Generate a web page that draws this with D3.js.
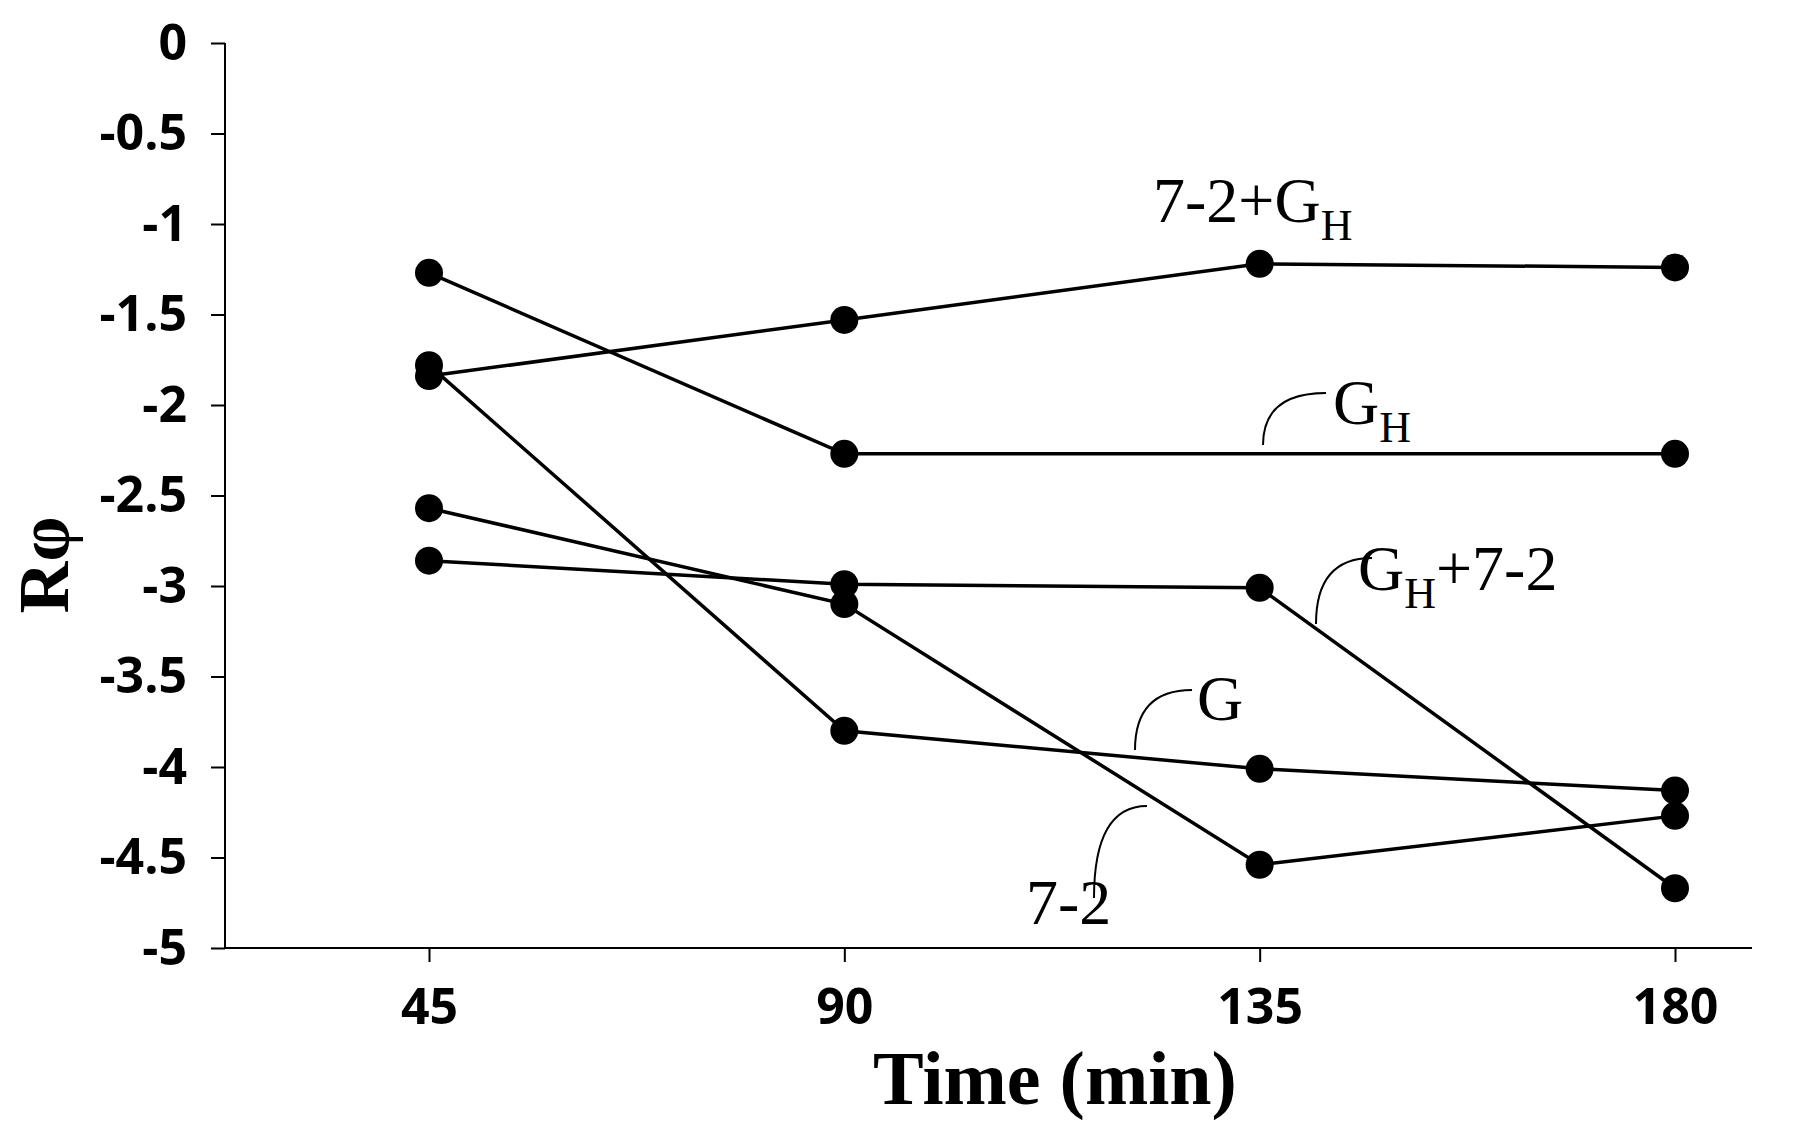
<!DOCTYPE html>
<html>
<head>
<meta charset="UTF-8">
<script src="https://d3js.org/d3.v7.min.js"></script>
<style>
  body { margin: 0; background: #fff; }
  .tick text { font-family: "Liberation Sans Narrow", "Open Sans", sans-serif; font-weight: bold; }
</style>
</head>
<body>
<div id="chart"></div>
<script>
var times = [45, 90, 135, 180];
var yTicks = [0, -0.5, -1, -1.5, -2, -2.5, -3, -3.5, -4, -4.5, -5];
var seriesNames = ["7-2+GH", "GH", "G", "7-2", "GH+7-2"];
var s72GH = [-1.84, -1.53, -1.22, -1.24];
var sGH = [-1.27, -2.27, null, -2.27];
var sG = [-1.78, -3.80, -4.01, -4.13];
var s72 = [-2.57, -3.10, -4.54, -4.27];
var sGH72 = [-2.86, -2.99, -3.01, -4.67];
var allSeries = [s72GH, sGH, sG, s72, sGH72];

var W = 1804, H = 1128;
var svg = d3.select("#chart").append("svg").attr("width", W).attr("height", H);

var x = d3.scaleLinear().domain([45, 180]).range([429, 1675]);
var y = d3.scaleLinear().domain([-5, 0]).range([948, 43]);

// axes
svg.append("line").attr("x1", 225).attr("x2", 225).attr("y1", y(0)).attr("y2", y(-5))
   .attr("stroke", "#000").attr("stroke-width", 2);
svg.append("line").attr("x1", 225).attr("x2", 1752).attr("y1", y(-5)).attr("y2", y(-5))
   .attr("stroke", "#000").attr("stroke-width", 2);

var yAxis = svg.append("g").attr("transform", "translate(225,0)")
  .call(d3.axisLeft(y).tickValues(yTicks).tickSize(14).tickFormat(function(d) { return d; }));
yAxis.select(".domain").remove();
yAxis.selectAll("line").attr("stroke-width", 2);
yAxis.selectAll("text").attr("font-size", 50).attr("x", -38).attr("fill", "#000");

var xAxis = svg.append("g").attr("transform", "translate(0," + y(-5) + ")")
  .call(d3.axisBottom(x).tickValues(times).tickSize(14));
xAxis.select(".domain").remove();
xAxis.selectAll("line").attr("stroke-width", 2);
xAxis.selectAll("text").attr("font-size", 50).attr("y", 40).attr("fill", "#000");

svg.append("text").attr("x", 1055).attr("y", 1104).attr("text-anchor", "middle")
  .attr("font-family", "Liberation Serif, serif").attr("font-weight", "bold").attr("font-size", 76)
  .text("Time (min)");
svg.append("text").attr("transform", "translate(68,565) rotate(-90)").attr("text-anchor", "middle")
  .attr("font-family", "Liberation Serif, serif").attr("font-weight", "bold").attr("font-size", 72)
  .text("Rφ");

// lines and markers
var line = d3.line()
  .x(function(d) { return x(d[0]); }).y(function(d) { return y(d[1]); });
allSeries.forEach(function(s) {
  var pts = times.map(function(t, i) { return [t, s[i]]; }).filter(function(d) { return d[1] != null; });
  svg.append("path").attr("d", line(pts)).attr("fill", "none").attr("stroke", "#000").attr("stroke-width", 3.5);
  svg.selectAll(null).data(pts).enter().append("circle")
    .attr("cx", function(d) { return x(d[0]); }).attr("cy", function(d) { return y(d[1]); })
    .attr("r", 14).attr("fill", "#000");
});

// labels
function label(tx, ty, main, sub, rest) {
  var t = svg.append("text").attr("x", tx).attr("y", ty)
    .attr("font-family", "Liberation Serif, serif").attr("font-size", 64).attr("fill", "#000");
  t.append("tspan").text(main);
  if (sub) t.append("tspan").attr("font-size", 44).attr("dy", 18).text(sub);
  if (rest) t.append("tspan").attr("dy", -18).text(rest);
}
label(1153, 222, "7-2+G", "H");
label(1333, 424, "G", "H");
label(1358, 590, "G", "H", "+7-2");
label(1197, 720, "G");
label(1026, 924, "7-2");

function leader(x1, y1, x2, y2) {
  svg.append("path")
    .attr("d", "M" + x1 + "," + y1 + " Q" + x1 + "," + y2 + " " + x2 + "," + y2)
    .attr("fill", "none").attr("stroke", "#000").attr("stroke-width", 2);
}
leader(1263, 445, 1326, 393);
leader(1316, 624, 1372, 558);
leader(1135, 750, 1192, 690);
leader(1094, 898, 1147, 806);
</script>
</body>
</html>
